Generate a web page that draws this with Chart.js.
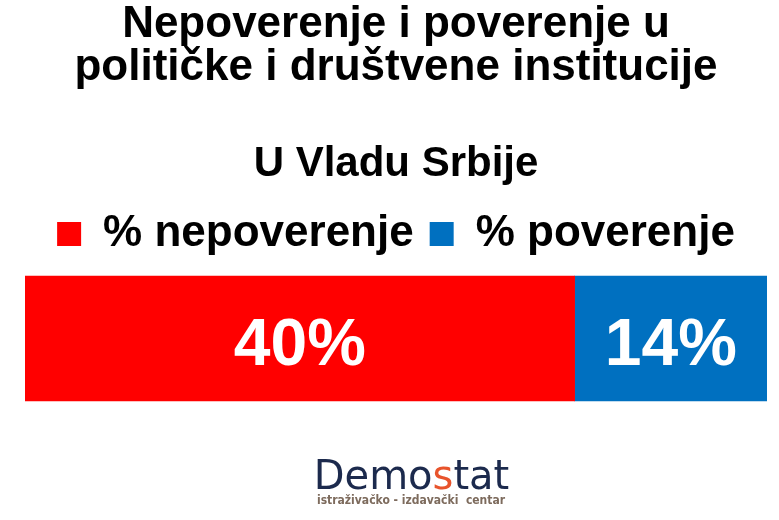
<!DOCTYPE html>
<html>
<head>
<meta charset="utf-8">
<script src="https://cdn.jsdelivr.net/npm/chart.js@4.4.1/dist/chart.umd.min.js"></script>
<style>
    html, body { margin: 0; padding: 0; background: #fff; }
    #wrap { width: 779px; height: 520px; }
</style>
</head>
<body>
<div id="wrap"><canvas id="trustChart" width="779" height="520"></canvas></div>
<script>
// podaci
const categories = ['U Vladu Srbije'];
const seriesNames = ['% nepoverenje', '% poverenje'];
const nepoverenje = [40];
const poverenje = [14];
const seriesColors = ['#FF0000', '#0070C0'];

const FONT = '"Liberation Sans", Arial, sans-serif';

// bele vrednosti na sredini segmenata
const valueLabels = {
    id: 'valueLabels',
    afterDatasetsDraw(chart) {
        const ctx = chart.ctx;
        ctx.save();
        ctx.fillStyle = '#fff';
        ctx.font = 'bold 66px ' + FONT;
        ctx.textAlign = 'center';
        ctx.textBaseline = 'alphabetic';
        chart.data.datasets.forEach((ds, i) => {
            const meta = chart.getDatasetMeta(i);
            meta.data.forEach((bar, j) => {
                const p = bar.getProps(['x', 'y', 'base'], true);
                ctx.fillText(ds.data[j] + '%', (p.x + p.base) / 2, p.y + 26);
            });
        });
        ctx.restore();
    }
};

// logo Demostat ispod grafikona
const logo = {
    id: 'logo',
    afterDraw(chart) {
        const ctx = chart.ctx;
        ctx.save();
        ctx.textBaseline = 'alphabetic';
        ctx.textAlign = 'left';
        ctx.font = '40px "DejaVu Sans", sans-serif';
        const parts = [['Demo', '#1c2a4d'], ['s', '#e8542c'], ['tat', '#1c2a4d']];
        const total = parts.reduce((s, p) => s + ctx.measureText(p[0]).width, 0);
        let x = 411.5 - total / 2;
        parts.forEach(p => {
            ctx.fillStyle = p[1];
            ctx.fillText(p[0], x, 489);
            x += ctx.measureText(p[0]).width;
        });
        ctx.font = 'bold 12px "DejaVu Sans Condensed", "DejaVu Sans", sans-serif';
        ctx.fillStyle = '#7d6b5d';
        ctx.textAlign = 'center';
        ctx.fillText('istraživačko - izdavački  centar', 411, 504);
        ctx.restore();
    }
};

const ctx = document.getElementById('trustChart').getContext('2d');
const trustChart = new Chart(ctx, {
    type: 'bar',
    data: {
        labels: categories,
        datasets: [
            {
                label: seriesNames[0],
                data: nepoverenje,
                backgroundColor: seriesColors[0],
                borderWidth: 0
            },
            {
                label: seriesNames[1],
                data: poverenje,
                backgroundColor: seriesColors[1],
                borderWidth: 0
            }
        ]
    },
    options: {
        indexAxis: 'y',
        responsive: false,
        animation: false,
        layout: {
            padding: { left: 25, right: 12, top: 0, bottom: 109 }
        },
        datasets: {
            bar: { barThickness: 125 }
        },
        scales: {
            x: {
                stacked: true,
                display: false,
                min: 0,
                max: nepoverenje[0] + poverenje[0]
            },
            y: {
                stacked: true,
                display: false
            }
        },
        plugins: {
            tooltip: { enabled: false },
            title: {
                display: true,
                text: ['Nepoverenje i poverenje u', 'političke i društvene institucije'],
                color: '#000',
                font: { family: FONT, size: 44, weight: 'bold', lineHeight: 43 / 44 },
                padding: { top: 3, bottom: 54 }
            },
            subtitle: {
                display: true,
                text: categories[0],
                color: '#000',
                font: { family: FONT, size: 42, weight: 'bold', lineHeight: 1 },
                padding: { top: 0, bottom: 11 }
            },
            legend: {
                display: true,
                position: 'top',
                labels: {
                    color: '#000',
                    font: { family: FONT, size: 44, weight: 'bold' },
                    boxWidth: 24,
                    boxHeight: 24,
                    padding: 16
                }
            }
        }
    },
    plugins: [valueLabels, logo]
});
</script>
</body>
</html>
